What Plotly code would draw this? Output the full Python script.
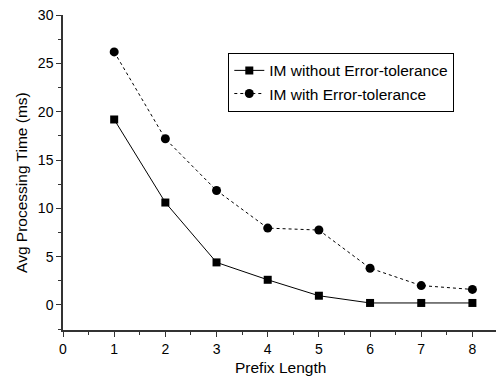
import plotly.graph_objects as go

prefix_length = [1, 2, 3, 4, 5, 6, 7, 8]
im_without = [19.2, 10.6, 4.4, 2.6, 0.95, 0.2, 0.2, 0.2]
im_with = [26.2, 17.2, 11.85, 7.95, 7.75, 3.8, 2.0, 1.6]

fig = go.Figure()
fig.add_trace(go.Scatter(x=prefix_length, y=im_without, mode="lines+markers",
                         name="IM without Error-tolerance",
                         line=dict(color="black", width=1, dash="solid"),
                         marker=dict(symbol="square", size=8, color="black")))
fig.add_trace(go.Scatter(x=prefix_length, y=im_with, mode="lines+markers",
                         name="IM with Error-tolerance",
                         line=dict(color="black", width=1, dash="dot"),
                         marker=dict(symbol="circle", size=9, color="black")))

font = "Liberation Sans, Arial, sans-serif"
fig.update_layout(
    width=504, height=378,
    margin=dict(l=55, r=14, t=7, b=56, autoexpand=False),
    paper_bgcolor="white", plot_bgcolor="white",
    font=dict(family=font, size=14, color="black"),
    showlegend=True,
    legend=dict(x=0.38, y=0.88, xanchor="left", yanchor="top",
                bordercolor="black", borderwidth=1, bgcolor="white",
                font=dict(size=15.5), tracegroupgap=0),
    xaxis=dict(range=[0, 8.5], tickmode="array", tickvals=[0, 1, 2, 3, 4, 5, 6, 7, 8],
               ticks="outside", ticklen=5, tickwidth=1, tickcolor="#333",
               showline=True, linecolor="#333", linewidth=1.5,
               showgrid=False, zeroline=False, automargin=False,
               ticklabeloverflow="allow",
               minor=dict(dtick=0.5, ticks="outside", ticklen=3, tickcolor="#333"),
               tickfont=dict(size=14)),
    yaxis=dict(range=[-2.6, 30.02], tickmode="array", tickvals=[0, 5, 10, 15, 20, 25, 30],
               ticks="outside", ticklen=5, tickwidth=1, tickcolor="#333",
               showline=True, linecolor="#333", linewidth=1.5,
               showgrid=False, zeroline=False, automargin=False,
               ticklabeloverflow="allow",
               minor=dict(dtick=2.5, ticks="outside", ticklen=3, tickcolor="#333"),
               tickfont=dict(size=14)),
    annotations=[
        dict(text="Prefix Length", xref="paper", yref="paper", x=0.5, y=0,
             yshift=-37, xanchor="center", yanchor="middle", showarrow=False,
             font=dict(size=15.5)),
        dict(text="Avg Processing Time (ms)", xref="paper", yref="paper", x=0, y=0.467,
             xshift=-41, xanchor="center", yanchor="middle", textangle=-90,
             showarrow=False, font=dict(size=15.5)),
    ],
)
fig.write_html("out.html")
